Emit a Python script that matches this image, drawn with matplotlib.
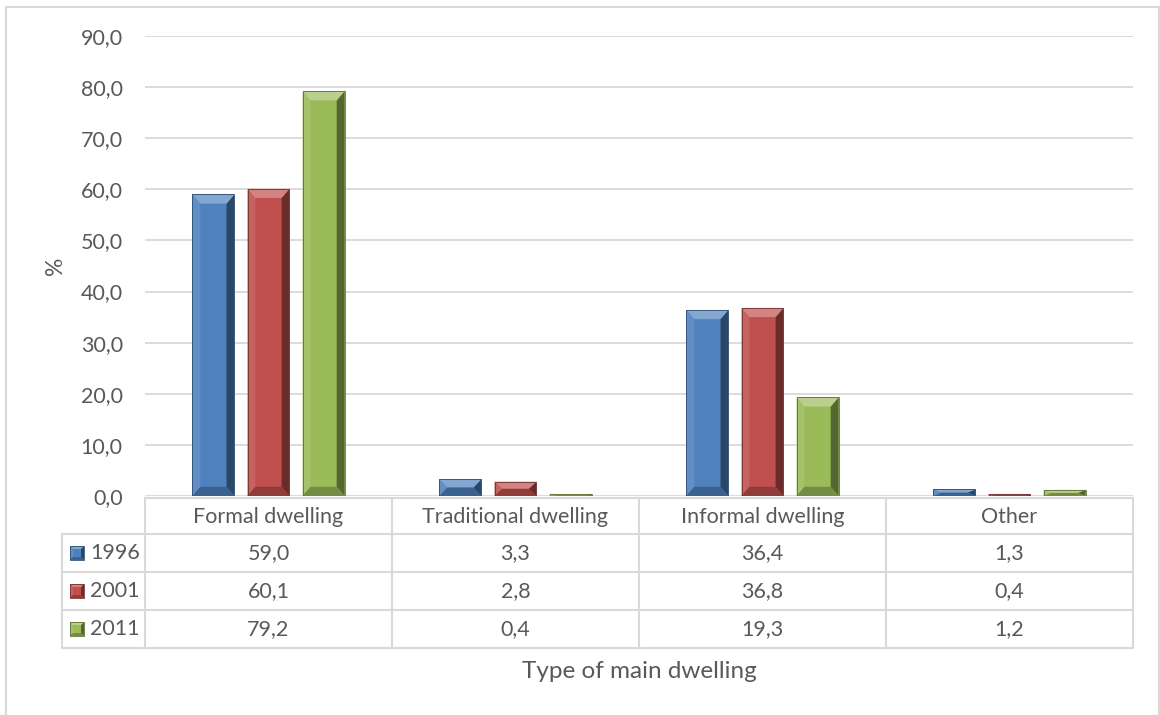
import numpy as np
import matplotlib
matplotlib.use("Agg")
import matplotlib.pyplot as plt
from matplotlib.patches import Polygon, Rectangle
from matplotlib.colors import to_rgb

plt.rcParams['font.family'] = ['Lato', 'DejaVu Sans']

categories = ["Formal dwelling", "Traditional dwelling", "Informal dwelling", "Other"]
years = ["1996", "2001", "2011"]
v1996 = [59.0, 3.3, 36.4, 1.3]
v2001 = [60.1, 2.8, 36.8, 0.4]
v2011 = [79.2, 0.4, 19.3, 1.2]
colors = ["#4f81bd", "#c0504d", "#9bbb59"]

TXT = "#595959"
GRID = "#d9d9d9"
W, H = 1160, 715
FS = 15.5


def mix(c, other, t):
    c = np.array(to_rgb(c))
    return tuple(c * (1 - t) + np.array(other) * t)


def bevel(ax, x0, y0, w, h, color, bx, by, clip=True):
    # beveled box: lit top/left, shaded right/bottom
    by = min(by, h / 2) if h > 0 else max(by, h / 2)
    bx = min(bx, w / 2)
    x1, y1 = x0 + w, y0 + h
    kw = dict(lw=0, clip_on=clip, zorder=3)
    ax.add_patch(Rectangle((x0, y0), w, h, fc=color, **kw))
    ax.add_patch(Polygon([(x0, y0), (x0 + bx, y0 + by), (x0 + bx, y1 - by), (x0, y1)],
                         fc=mix(color, (1, 1, 1), 0.1), **kw))
    ax.add_patch(Polygon([(x1, y0), (x1 - bx, y0 + by), (x1 - bx, y1 - by), (x1, y1)],
                         fc=mix(color, (0, 0, 0), 0.45), **kw))
    ax.add_patch(Polygon([(x0, y1), (x0 + bx, y1 - by), (x1 - bx, y1 - by), (x1, y1)],
                         fc=mix(color, (1, 1, 1), 0.3), **kw))
    ax.add_patch(Polygon([(x0, y0), (x0 + bx, y0 + by), (x1 - bx, y0 + by), (x1, y0)],
                         fc=mix(color, (0, 0, 0), 0.25), **kw))
    ax.add_patch(Rectangle((x0, y0), w, h, fc="none", ec=mix(color, (0, 0, 0), 0.4),
                           lw=0.6, clip_on=clip, zorder=4))


fig = plt.figure(figsize=(W / 100, H / 100), dpi=100)

# outer chart border
fig.add_artist(Rectangle((6 / W, -0.01), (W - 7) / W, (H - 7) / H + 0.01,
                         transform=fig.transFigure, fc="none", ec=GRID, lw=1.5))

px_l, px_r, px_top, px_bot = 145, 1133, 36, 496
ax = fig.add_axes([px_l / W, (H - px_bot) / H, (px_r - px_l) / W, (px_bot - px_top) / H])

x = np.arange(len(categories))
bw, step = 0.17, 0.223
series = [v1996, v2001, v2011]
for i, (vals, c) in enumerate(zip(series, colors)):
    bars = ax.bar(x + (i - 1) * step, vals, bw, color="none", lw=0)
    for b in bars:
        bevel(ax, b.get_x(), 0, b.get_width(), b.get_height(), c, 0.032, 1.8)

ax.set_xlim(-0.5, len(categories) - 0.5)
ax.set_ylim(0, 90)
ax.set_yticks(np.arange(0, 91, 10))
ax.set_yticklabels([f"{t:.1f}".replace(".", ",") for t in np.arange(0, 91, 10)])
ax.yaxis.grid(True, color=GRID, lw=1.3)
ax.set_axisbelow(True)
ax.tick_params(axis="y", length=0, pad=16, labelsize=FS, labelcolor=TXT)
ax.tick_params(axis="x", length=0, labelbottom=False)
for s in ax.spines.values():
    s.set_visible(False)
ax.set_ylabel("%", fontsize=FS + 1, color=TXT)
ax.yaxis.set_label_coords(-0.080, 0.5)

# data table under the plot, sharing the category x scale
tab_top, tab_bot = 496, 648
tax = fig.add_axes([px_l / W, (H - tab_bot) / H, (px_r - px_l) / W, (tab_bot - tab_top) / H],
                   sharex=ax)
tax.set_ylim(tab_bot, tab_top)
tax.axis("off")

unit = (px_r - px_l) / len(categories)
x_left = -0.5 - (px_l - 62) / unit
row_y = [498, 534, 572, 610, 648]
lk = dict(color=GRID, lw=1.5, clip_on=False)
# header row frame
tax.plot([-0.5, 3.5], [row_y[0], row_y[0]], **lk)
tax.plot([x_left, 3.5], [row_y[1], row_y[1]], **lk)
for y in row_y[2:]:
    tax.plot([x_left, 3.5], [y, y], **lk)
tax.plot([x_left, x_left], [row_y[1], row_y[4]], **lk)
for k in range(len(categories) + 1):
    tax.plot([k - 0.5, k - 0.5], [row_y[0], row_y[4]], **lk)

for k, cat in enumerate(categories):
    tax.text(k, (row_y[0] + row_y[1]) / 2 + 1, cat, ha="center", va="center",
             fontsize=FS, color=TXT)

kx = x_left + 8 / unit
for r, (yr, vals, c) in enumerate(zip(years, series, colors)):
    yc = (row_y[r + 1] + row_y[r + 2]) / 2
    bevel(tax, kx, yc + 7, 14 / unit, -14, c, 3 / unit, -3, clip=False)
    tax.text(x_left + 28 / unit, yc, yr, ha="left", va="center", fontsize=FS, color=TXT)
    for k, v in enumerate(vals):
        tax.text(k, yc, f"{v:.1f}".replace(".", ","), ha="center", va="center",
                 fontsize=FS, color=TXT)

fig.text(639 / W, 1 - 672 / H, "Type of main dwelling", ha="center", va="center",
         fontsize=17.5, color=TXT)

fig.savefig("out.png", dpi=100)
